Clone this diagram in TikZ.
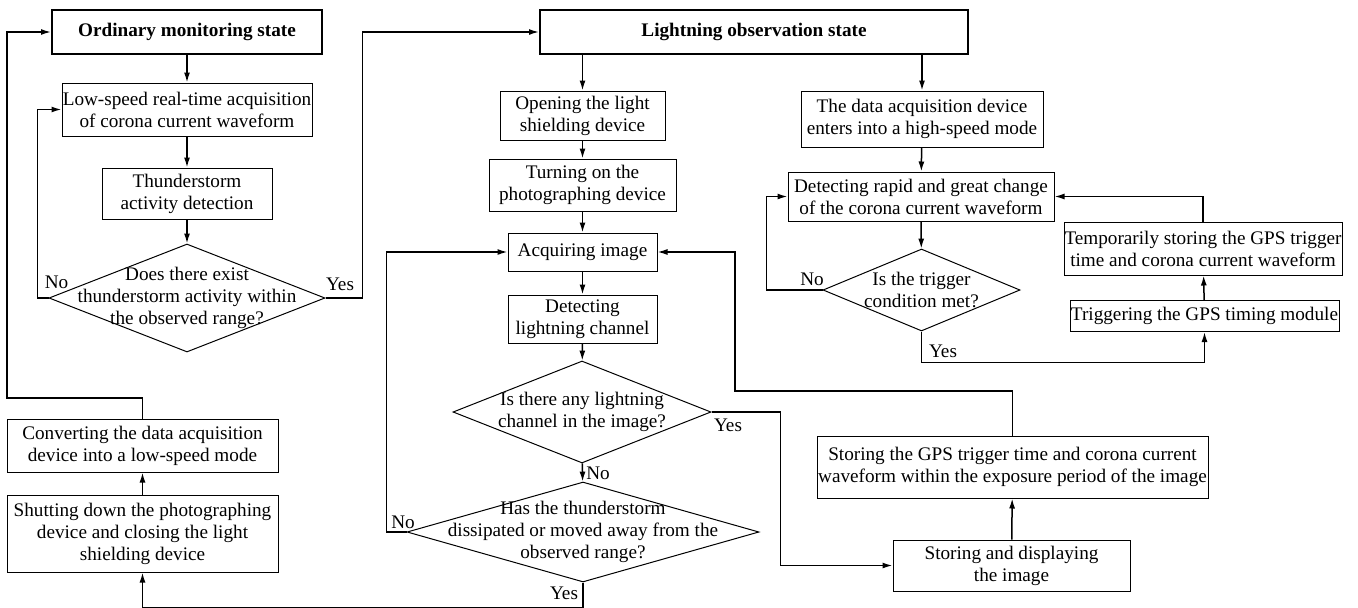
\documentclass[tikz,border=0pt]{standalone}
\usepackage{fontspec}
\setmainfont{Liberation Serif}
\usetikzlibrary{shapes.geometric,arrows.meta}

\newcommand{\flowfont}{\fontsize{19.2}{22}\selectfont}
\tikzset{
  box/.style={draw,line width=1pt,inner sep=0pt,align=center},
  statebox/.style={box,line width=2pt,font=\flowfont\bfseries},
  decision/.style={draw,diamond,line width=1pt,inner sep=0pt},
  flow/.style={line width=1.5pt,-{Latex[length=10pt,width=6pt]}},
  link/.style={line width=1.5pt},
}

\begin{document}
\begin{tikzpicture}[x=1pt,y=-1pt,font=\flowfont]
  \useasboundingbox (0,0) rectangle (1358,608);
  % left column: ordinary monitoring
  \node[statebox,minimum width=270,minimum height=44] (ord) at (187,32) {Ordinary monitoring state};
  \node[box,minimum width=250,minimum height=53] (low) at (187,109.5) {Low-speed real-time acquisition\\of corona current waveform};
  \node[box,minimum width=170,minimum height=51] (thd) at (187,193.5) {Thunderstorm\\activity detection};
  \node[decision,minimum width=276,minimum height=108,
        label={[align=center]center:Does there exist\\thunderstorm activity within\\the observed range?}] (dex) at (187,298) {};
  \node[box,minimum width=271,minimum height=53] (cnv) at (142.5,445.5) {Converting the data acquisition\\device into a low-speed mode};
  \node[box,minimum width=271,minimum height=77] (sht) at (142.5,533.5) {Shutting down the photographing\\device and closing the light\\shielding device};
  % middle column: image branch
  \node[statebox,minimum width=428,minimum height=44] (lgt) at (754,32) {Lightning observation state};
  \node[box,minimum width=165,minimum height=49] (opn) at (582.5,115.5) {Opening the light\\shielding device};
  \node[box,minimum width=187,minimum height=52] (trn) at (582.5,185) {Turning on the\\photographing device};
  \node[box,minimum width=149,minimum height=38] (acq) at (582.5,252) {Acquiring image};
  \node[box,minimum width=149,minimum height=48] (dch) at (582.5,319) {Detecting\\lightning channel};
  \node[decision,minimum width=258,minimum height=102,
        label={[align=center]center:Is there any lightning\\channel in the image?}] (dlc) at (582,412) {};
  \node[decision,minimum width=352,minimum height=100,
        label={[align=center]center:Has the thunderstorm\\dissipated or moved away from the\\observed range?}] (dhs) at (583,532) {};
  \node[box,minimum width=391,minimum height=62] (sgp) at (1012.5,467) {Storing the GPS trigger time and corona current\\waveform within the exposure period of the image};
  \node[box,minimum width=237,minimum height=51] (sdi) at (1011.5,565.5) {Storing and displaying\\the image};
  % right column: waveform branch
  \node[box,minimum width=242,minimum height=56] (hsp) at (922,119) {The data acquisition device\\enters into a high-speed mode};
  \node[box,minimum width=266,minimum height=49] (drc) at (921,196.5) {Detecting rapid and great change\\of the corona current waveform};
  \node[decision,minimum width=197,minimum height=82,
        label={[align=center]center:Is the trigger\\condition met?}] (dtr) at (921.5,290) {};
  \node[box,minimum width=278,minimum height=53] (tmp) at (1203,248.5) {Temporarily storing the GPS trigger\\time and corona current waveform};
  \node[box,minimum width=269,minimum height=31] (tgp) at (1204.5,316) {Triggering the GPS timing module};
  % straight arrows
  \foreach \a/\b in {ord/low,low/thd,thd/dex,opn/trn,trn/acq,acq/dch,dch/dlc,dlc/dhs,sht/cnv,sdi/sgp,hsp/drc,drc/dtr,tgp/tmp}
    \draw[flow] (\a) -- (\b);
  \draw[flow] (opn.north |- lgt.south) -- (opn);
  \draw[flow] (hsp.north |- lgt.south) -- (hsp);
  % loops and branches
  \coordinate (lp) at (7,398);
  \coordinate (rp) at (735,391);
  \draw[flow] (dex.west) -- ++(-11,0) |- (low);
  \draw[flow] (dex.east) -- ++(37,0) |- (lgt);
  \draw[flow] (cnv.north) |- (lp) |- (ord);
  \draw[flow] (dlc.east) -- ++(69,0) |- (sdi);
  \draw[flow] (dhs.west) -- ++(-20,0) |- (acq);
  \draw[flow] (dhs.south) -- ++(0,25) -| (sht);
  \draw[flow] (sgp.north) |- (rp) |- (acq);
  \draw[flow] (dtr.west) -- ++(-56,0) |- (drc);
  \draw[flow] (dtr.south) -- ++(0,31) -| (tgp);
  \draw[flow] (tmp.north) |- (drc);
  % yes / no marks
  \node (n1) at (56.5,282) {No};
  \node (y1) at (340,284) {Yes};
  \node (n2) at (812,279) {No};
  \node (y2) at (943,351) {Yes};
  \node (y3) at (728,425) {Yes};
  \node (n3) at (598,473) {No};
  \node (n4) at (403,522) {No};
  \node (y4) at (564,593) {Yes};
\end{tikzpicture}
\end{document}
